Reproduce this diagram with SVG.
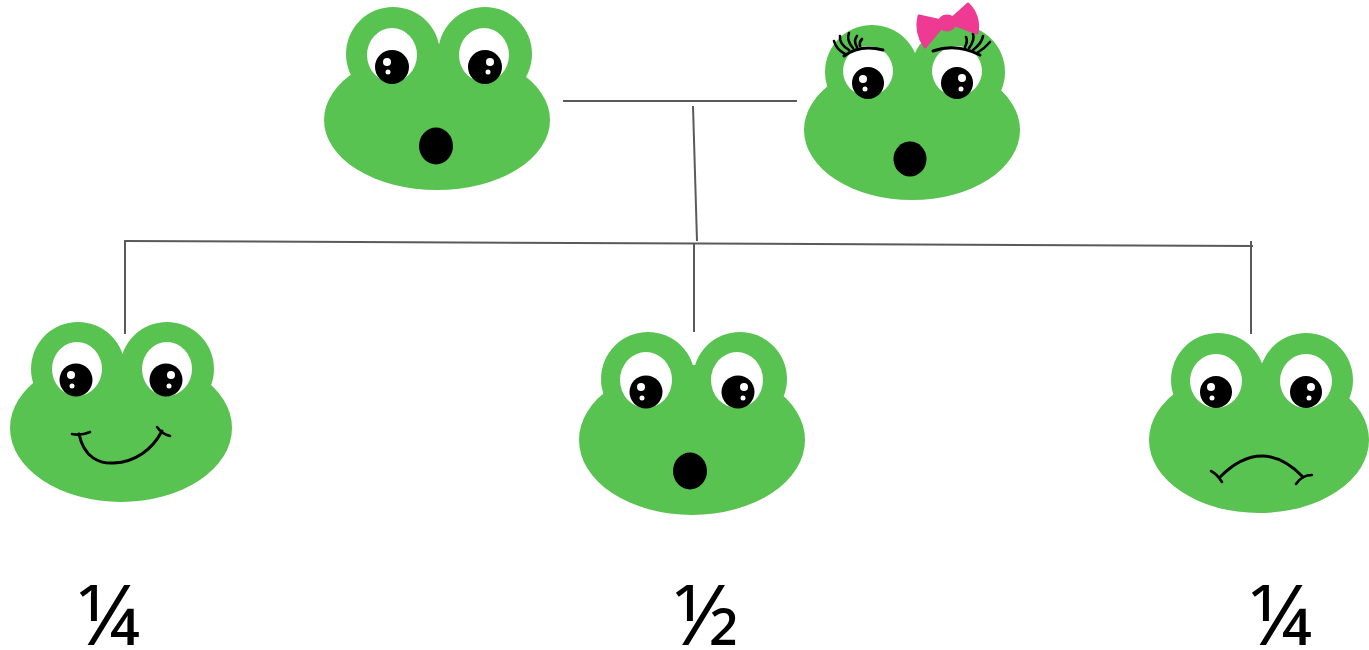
<svg xmlns="http://www.w3.org/2000/svg" width="1369" height="650" viewBox="0 0 1369 650">
  <style>
    .skin { fill: #59c351; }
    .white { fill: #ffffff; }
    .ink { fill: #000000; }
    .line { stroke: #000000; stroke-width: 3; fill: none; stroke-linecap: round; }
    .lash { stroke: #000000; stroke-width: 2.6; fill: none; stroke-linecap: round; }
    .link { stroke: #5a5a5a; stroke-width: 2; fill: none; }
    .bow { fill: #ee3a92; stroke: #ee3a92; stroke-width: 3; stroke-linejoin: round; }
    .frac { font-family: "Noto Sans", "Open Sans", "DejaVu Sans", sans-serif; font-size: 84px; fill: #000000; }
  </style>

  <!-- family tree lines -->
  <g id="connectors">
    <line class="link" x1="563" y1="101" x2="797" y2="101"/>
    <line class="link" x1="693" y1="106" x2="697" y2="241"/>
    <line class="link" x1="124" y1="241" x2="1253" y2="246"/>
    <line class="link" x1="125" y1="241" x2="125" y2="334"/>
    <line class="link" x1="694" y1="243" x2="694" y2="332"/>
    <line class="link" x1="1251" y1="241" x2="1251" y2="334"/>
  </g>

  <!-- father -->
  <g id="frog-father">
    <circle class="skin" cx="393" cy="54" r="47"/>
    <circle class="skin" cx="485" cy="54" r="47"/>
    <ellipse class="skin" cx="437" cy="120" rx="113" ry="70"/>
    <ellipse class="white" cx="392" cy="55" rx="25" ry="27"/>
    <ellipse class="white" cx="484" cy="55" rx="25" ry="27"/>
    <circle class="ink" cx="392" cy="67" r="17"/>
    <circle class="ink" cx="485" cy="67" r="17"/>
    <circle class="white" cx="387" cy="62" r="4"/>
    <circle class="white" cx="388" cy="72" r="2.5"/>
    <circle class="white" cx="490" cy="62" r="4"/>
    <circle class="white" cx="488" cy="72" r="2.5"/>
    <ellipse class="ink" cx="436" cy="146" rx="17" ry="18.5"/>
  </g>

  <!-- mother -->
  <g id="frog-mother">
    <circle class="skin" cx="872" cy="72" r="47"/>
    <circle class="skin" cx="958" cy="72" r="47"/>
    <ellipse class="skin" cx="912" cy="130" rx="108" ry="70"/>
    <ellipse class="white" cx="868" cy="71" rx="25" ry="25"/>
    <ellipse class="white" cx="957" cy="71" rx="25" ry="25"/>
    <!-- eyeliner and lashes -->
    <path class="line" d="M 844 56 Q 860 44 883 50"/>
    <path class="lash" d="M 845 54 Q 836 49 834 41"/>
    <path class="lash" d="M 849 50 Q 839 44 840 36"/>
    <path class="lash" d="M 853 48 Q 846 40 849 33"/>
    <path class="lash" d="M 857 47 Q 853 41 857 36"/>
    <path class="lash" d="M 860 46 Q 859 42 862 39"/>
    <path class="line" d="M 933 51 Q 956 43 980 55"/>
    <path class="lash" d="M 977 53 Q 985 48 990 42"/>
    <path class="lash" d="M 973 50 Q 982 43 983 36"/>
    <path class="lash" d="M 969 48 Q 975 40 973 34"/>
    <path class="lash" d="M 965 47 Q 968 41 966 37"/>
    <circle class="ink" cx="868" cy="83" r="16"/>
    <circle class="ink" cx="957" cy="83" r="16"/>
    <circle class="white" cx="863" cy="79" r="4"/>
    <circle class="white" cx="865" cy="89" r="2.5"/>
    <circle class="white" cx="962" cy="78" r="4"/>
    <circle class="white" cx="961" cy="89" r="2.5"/>
    <ellipse class="ink" cx="910" cy="159" rx="16.5" ry="17.5"/>
    <!-- bow -->
    <path class="bow" d="M 946 22 L 919 16 Q 915 32 925 47 Z"/>
    <path class="bow" d="M 948 22 L 968 4 Q 980 16 977 33 Z"/>
    <ellipse class="bow" cx="947" cy="23" rx="8" ry="7"/>
  </g>

  <!-- offspring -->
  <g id="frog-happy">
    <circle class="skin" cx="78" cy="369" r="47"/>
    <circle class="skin" cx="167" cy="369" r="47"/>
    <ellipse class="skin" cx="121" cy="428" rx="111" ry="74"/>
    <ellipse class="white" cx="77" cy="369" rx="25" ry="27"/>
    <ellipse class="white" cx="167" cy="369" rx="25" ry="27"/>
    <circle class="ink" cx="76" cy="380" r="16.5"/>
    <circle class="ink" cx="166" cy="380" r="16.5"/>
    <circle class="white" cx="71" cy="375" r="4"/>
    <circle class="white" cx="72" cy="386" r="2.5"/>
    <circle class="white" cx="171" cy="375" r="4"/>
    <circle class="white" cx="169" cy="386" r="2.5"/>
    <path class="line" d="M 79 434 C 84 458 100 464 114 463 C 135 462 152 450 162 431"/>
    <path class="lash" d="M 72 434 Q 81 436 90 432"/>
    <path class="lash" d="M 157 427 Q 162 434 170 436"/>
  </g>

  <g id="frog-surprised">
    <circle class="skin" cx="648" cy="379" r="47"/>
    <circle class="skin" cx="740" cy="379" r="47"/>
    <ellipse class="skin" cx="692" cy="440" rx="113" ry="75"/>
    <ellipse class="white" cx="646" cy="380" rx="26" ry="28"/>
    <ellipse class="white" cx="737" cy="380" rx="26" ry="28"/>
    <circle class="ink" cx="646" cy="392" r="16.5"/>
    <circle class="ink" cx="738" cy="392" r="16.5"/>
    <circle class="white" cx="641" cy="387" r="4"/>
    <circle class="white" cx="642" cy="398" r="2.5"/>
    <circle class="white" cx="744" cy="387" r="4"/>
    <circle class="white" cx="743" cy="398" r="2.5"/>
    <ellipse class="ink" cx="690" cy="471" rx="17" ry="18.5"/>
  </g>

  <g id="frog-sad">
    <circle class="skin" cx="1218" cy="380" r="47"/>
    <circle class="skin" cx="1306" cy="380" r="47"/>
    <ellipse class="skin" cx="1259" cy="440" rx="110" ry="73"/>
    <ellipse class="white" cx="1216" cy="381" rx="26" ry="27"/>
    <ellipse class="white" cx="1306" cy="381" rx="26" ry="27"/>
    <circle class="ink" cx="1216" cy="392" r="16"/>
    <circle class="ink" cx="1306" cy="392" r="16"/>
    <circle class="white" cx="1211" cy="387" r="4"/>
    <circle class="white" cx="1212" cy="398" r="2.5"/>
    <circle class="white" cx="1311" cy="387" r="4"/>
    <circle class="white" cx="1309" cy="398" r="2.5"/>
    <path class="line" d="M 1220 477 Q 1262 435 1303 477"/>
    <path class="lash" d="M 1211 471 Q 1217 474 1222 482"/>
    <path class="lash" d="M 1296 484 Q 1302 475 1312 475"/>
  </g>

  <!-- ratios -->
  <g id="ratios">
    <text class="frac" x="77" y="645">¼</text>
    <text class="frac" x="674" y="645">½</text>
    <text class="frac" x="1249" y="645">¼</text>
  </g>
</svg>
